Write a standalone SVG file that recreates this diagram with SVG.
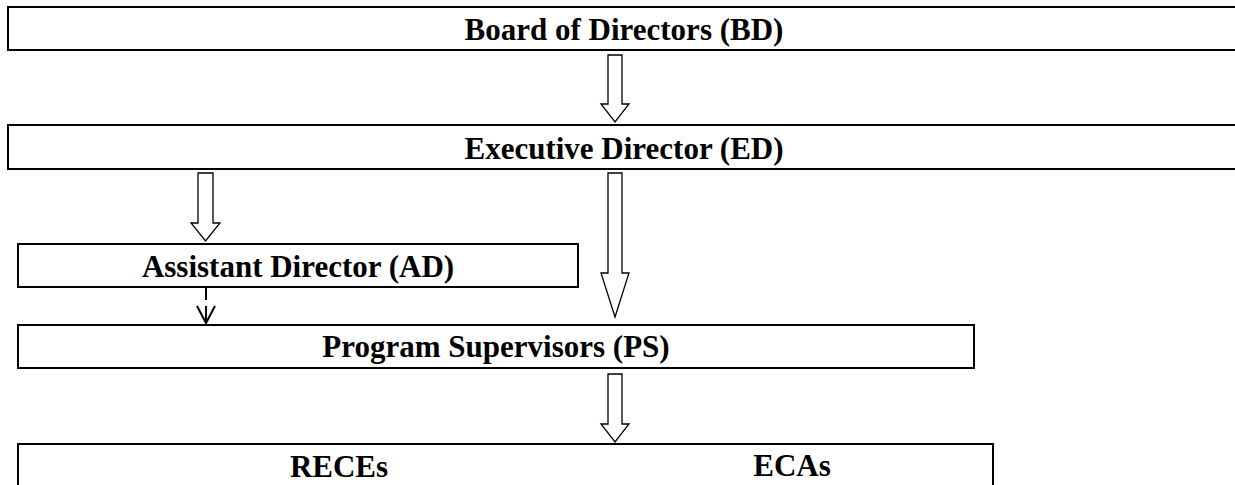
<svg xmlns="http://www.w3.org/2000/svg" width="1235" height="485" viewBox="0 0 1235 485">
  <style>
    .box { fill: #ffffff; stroke: #000000; stroke-width: 2; }
    .label { font-family: "Liberation Serif", "Times New Roman", serif; font-weight: bold; font-size: 31px; fill: #000000; text-anchor: middle; }
    .block { fill: #ffffff; stroke: #000000; stroke-width: 1.3; stroke-linejoin: miter; }
    .dash { fill: none; stroke: #000000; stroke-width: 2; }
  </style>
  <rect width="1235" height="485" fill="#ffffff"/>

  <g id="connectors">
    <!-- BD to ED -->
    <polygon class="block" points="608,55 622,55 622,104 629,104 615,122 601,104 608,104"/>
    <!-- ED to AD -->
    <polygon class="block" points="198,173 213,173 213,223 220,223 205.5,241 191,223 198,223"/>
    <!-- ED to PS -->
    <polygon class="block" points="608,173 622,173 622,273 629,273 615,317 601,273 608,273"/>
    <!-- AD to PS (dashed) -->
    <line class="dash" x1="206" y1="288" x2="206" y2="300"/>
    <polyline class="dash" points="197,306 206,323 215,306"/>
    <line class="dash" x1="206" y1="306" x2="206" y2="323"/>
    <!-- PS to RECEs / ECAs -->
    <polygon class="block" points="608,374 622,374 622,424 629,424 615,442 601,424 608,424"/>
  </g>

  <g id="node-bd">
    <rect class="box" x="8" y="7" width="1240" height="43"/>
    <text class="label" x="624" y="40">Board of Directors (BD)</text>
  </g>

  <g id="node-ed">
    <rect class="box" x="8" y="125" width="1240" height="44"/>
    <text class="label" x="624" y="159">Executive Director (ED)</text>
  </g>

  <g id="node-ad">
    <rect class="box" x="18" y="244" width="560" height="43"/>
    <text class="label" x="298" y="277">Assistant Director (AD)</text>
  </g>

  <g id="node-ps">
    <rect class="box" x="18" y="325" width="956" height="43"/>
    <text class="label" x="496" y="357">Program Supervisors (PS)</text>
  </g>

  <g id="node-staff">
    <rect class="box" x="18" y="444" width="975" height="60"/>
    <text class="label" x="339" y="477">RECEs</text>
    <text class="label" x="792" y="476">ECAs</text>
  </g>
</svg>
